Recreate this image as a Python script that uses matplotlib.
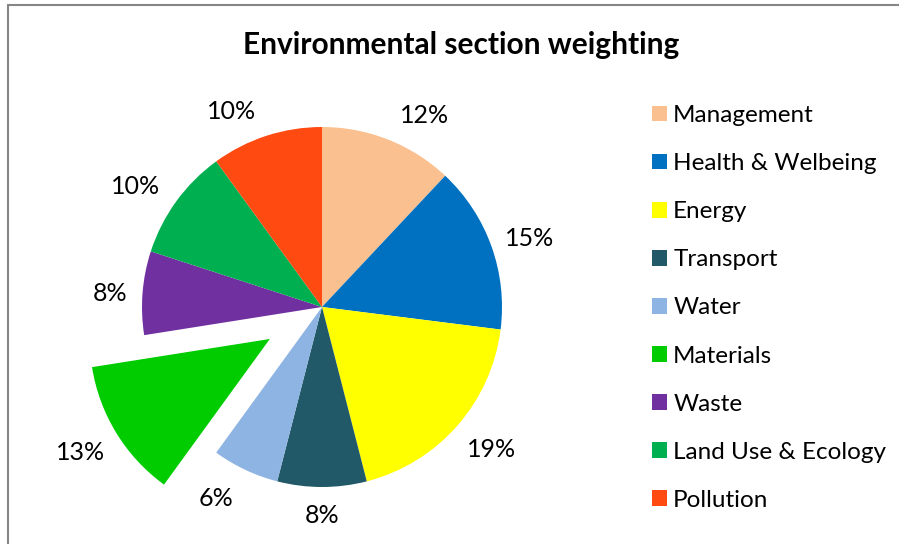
import numpy as np
import matplotlib.pyplot as plt
from matplotlib.patches import Rectangle

#Data: BREEAM environmental section weightings (%)
sections = ["Management", "Health & Welbeing", "Energy", "Transport", "Water",
            "Materials", "Waste", "Land Use & Ecology", "Pollution"]
weights = [12, 15, 19, 8, 6, 12.5, 7.5, 10, 10]
colors = ["#FAC090", "#0070C0", "#FFFF00", "#215968", "#8EB4E3",
          "#00CC00", "#7030A0", "#00B050", "#FF4A12"]
explode = [0, 0, 0, 0, 0, 0.34, 0, 0, 0]

plt.rcParams["font.family"] = ["Lato", "DejaVu Sans"]

W, H = 899, 544
fig = plt.figure(figsize=(W / 100, H / 100), dpi=100)

#Pie axes placed so that radius 1 = 180 px, centre at (322, 307) px
R = 180
cx, cy = 322, H - 307
ax = fig.add_axes([(cx - R) / W, (cy - R) / H, 2 * R / W, 2 * R / H])

#Round half up for the labels like Excel does
wedges, texts, autotexts = ax.pie(
    weights, colors=colors, explode=explode, startangle=90, counterclock=False,
    autopct=lambda p: f"{int(p + 0.5)}%", pctdistance=1.2,
    wedgeprops={"linewidth": 0}, textprops={"fontsize": 18})
ax.set_xlim(-1, 1)
ax.set_ylim(-1, 1)
for w in wedges:
    w.set_clip_on(False)

#Excel-like "outside end" labels: pushed sideways near the top and bottom
for w, t in zip(wedges, autotexts):
    ang = np.deg2rad((w.theta1 + w.theta2) / 2)
    ux, uy = np.cos(ang), np.sin(ang)
    x0, y0 = w.center
    side = 0.15 if uy > 0 else 0.1
    x = x0 + 1.17 * ux + side * np.sign(ux) * abs(uy) * (abs(ux) > 0.05)
    y = y0 + 1.16 * uy - 0.015 * (uy > 0) - 0.03 * (uy < 0) * abs(ux)
    t.set_position((x, y))

fig.text(461 / W, 1 - 45 / H, "Environmental section weighting",
         ha="center", va="center", fontsize=21.5, fontweight="bold")

fig.legend(wedges, sections, loc="upper left", bbox_to_anchor=(652 / W, 1 - 105 / H),
           frameon=False, fontsize=17.5, handlelength=0.62, handleheight=0.62,
           handletextpad=0.25, labelspacing=1.115, borderpad=0, borderaxespad=0)

#Chart border (cut off at right and bottom)
fig.patches.append(Rectangle((8 / W, -0.1), 1.2, 1.1 - 5 / H, transform=fig.transFigure,
                             fill=False, edgecolor="#868686", lw=1.5))

plt.savefig("out.png", dpi=100)
